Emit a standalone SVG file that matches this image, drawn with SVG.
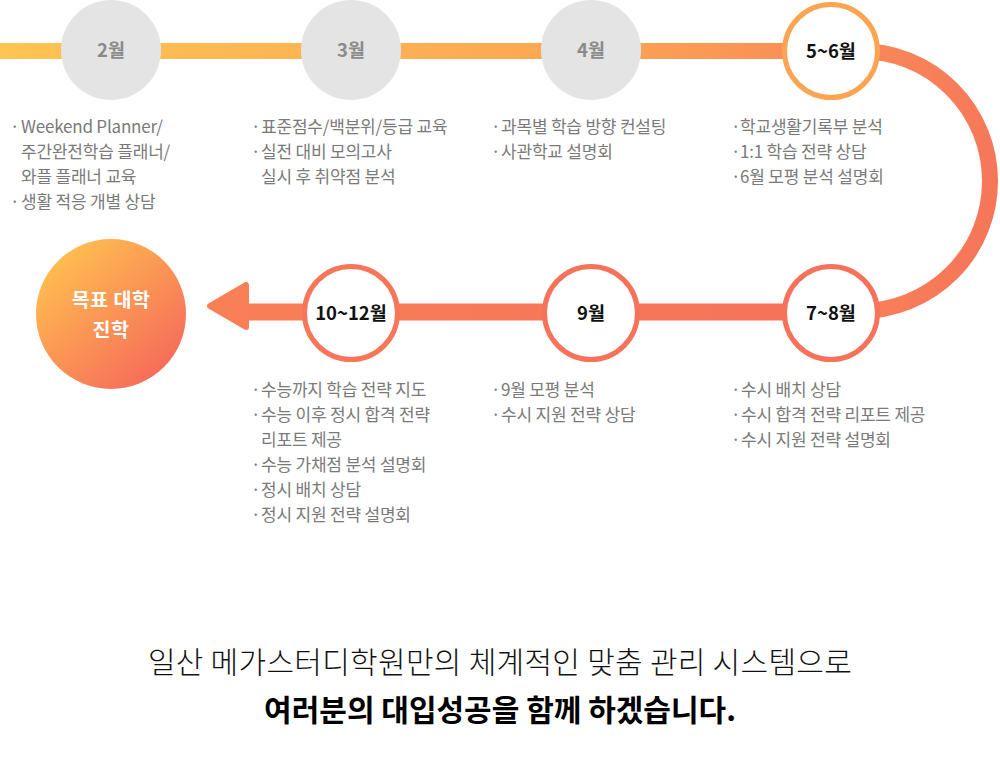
<svg xmlns="http://www.w3.org/2000/svg" width="1000" height="765" viewBox="0 0 1000 765">
<defs>
<linearGradient id="gTop" gradientUnits="userSpaceOnUse" x1="0" y1="51" x2="990" y2="311">
<stop offset="0" stop-color="#FFC451"/>
<stop offset="0.55" stop-color="#FCA653"/>
<stop offset="1" stop-color="#F6735A"/>
</linearGradient>
<linearGradient id="gBot" gradientUnits="userSpaceOnUse" x1="831" y1="0" x2="207" y2="0">
<stop offset="0" stop-color="#F6725A"/>
<stop offset="1" stop-color="#F97F57"/>
</linearGradient>
<linearGradient id="gGoal" x1="0.15" y1="0.1" x2="0.85" y2="0.9">
<stop offset="0" stop-color="#FFBE50"/>
<stop offset="1" stop-color="#F66B5A"/>
</linearGradient>
<style>
.it{font-family:"Noto Sans CJK KR","Noto Sans",sans-serif;font-size:17px;fill:#7a7a7a;letter-spacing:-0.2px}
.mg{font-family:"Noto Sans CJK KR","Noto Sans",sans-serif;font-size:18.5px;font-weight:bold;fill:#8a8a8a;text-anchor:middle}
.mb{font-family:"Noto Sans CJK KR","Noto Sans",sans-serif;font-size:18.5px;font-weight:bold;fill:#111;text-anchor:middle}
.gl{font-family:"Noto Sans CJK KR","Noto Sans",sans-serif;font-size:19.5px;font-weight:bold;fill:#fff;text-anchor:middle;letter-spacing:0.5px}
.grey{fill:#E4E4E4}
.ring{fill:#fff;stroke-width:5}
</style>
</defs>
<rect width="1000" height="765" fill="#fff"/>
<g id="connectors" fill="none">
<path d="M0 51 L860 51 A130 130 0 0 1 860 311 L831 311" stroke="url(#gTop)" stroke-width="16"/>
<path d="M831 312 L245 312" stroke="url(#gBot)" stroke-width="17"/>
<polygon points="246,285 246,327 210,306" fill="#F97F57" stroke="#F97F57" stroke-width="6" stroke-linejoin="round"/>
</g>
<g id="n-feb">
<circle class="grey" cx="111" cy="50" r="50"/>
<text class="mg" x="111" y="57">2월</text>
<text class="it"><tspan x="10" y="133">·</tspan><tspan x="21" y="133">Weekend Planner/</tspan></text>
<text class="it" x="21" y="158">주간완전학습 플래너/</text>
<text class="it" x="21" y="183">와플 플래너 교육</text>
<text class="it"><tspan x="10" y="208">·</tspan><tspan x="21" y="208">생활 적응 개별 상담</tspan></text>
</g>
<g id="n-mar">
<circle class="grey" cx="351" cy="50" r="50"/>
<text class="mg" x="351" y="57">3월</text>
<text class="it"><tspan x="251" y="133">·</tspan><tspan x="261" y="133">표준점수/백분위/등급 교육</tspan></text>
<text class="it"><tspan x="251" y="158">·</tspan><tspan x="261" y="158">실전 대비 모의고사</tspan></text>
<text class="it" x="261" y="183">실시 후 취약점 분석</text>
</g>
<g id="n-apr">
<circle class="grey" cx="591" cy="50" r="50"/>
<text class="mg" x="591" y="57">4월</text>
<text class="it"><tspan x="491" y="133">·</tspan><tspan x="501" y="133">과목별 학습 방향 컨설팅</tspan></text>
<text class="it"><tspan x="491" y="158">·</tspan><tspan x="501" y="158">사관학교 설명회</tspan></text>
</g>
<g id="n-may">
<circle class="ring" cx="831" cy="51" r="46.5" stroke="#FDA452"/>
<text class="mb" x="831" y="58">5~6월</text>
<text class="it"><tspan x="731" y="133">·</tspan><tspan x="740" y="133">학교생활기록부 분석</tspan></text>
<text class="it"><tspan x="731" y="158">·</tspan><tspan x="740" y="158">1:1 학습 전략 상담</tspan></text>
<text class="it"><tspan x="731" y="183">·</tspan><tspan x="740" y="183">6월 모평 분석 설명회</tspan></text>
</g>
<g id="n-jul">
<circle class="ring" cx="831" cy="313" r="46.5" stroke="#F6725A"/>
<text class="mb" x="831" y="320">7~8월</text>
<text class="it"><tspan x="731" y="396">·</tspan><tspan x="741" y="396">수시 배치 상담</tspan></text>
<text class="it"><tspan x="731" y="421">·</tspan><tspan x="741" y="421">수시 합격 전략 리포트 제공</tspan></text>
<text class="it"><tspan x="731" y="446">·</tspan><tspan x="741" y="446">수시 지원 전략 설명회</tspan></text>
</g>
<g id="n-sep">
<circle class="ring" cx="591" cy="313" r="46.5" stroke="#F6735A"/>
<text class="mb" x="591" y="320">9월</text>
<text class="it"><tspan x="491" y="396">·</tspan><tspan x="501" y="396">9월 모평 분석</tspan></text>
<text class="it"><tspan x="491" y="421">·</tspan><tspan x="501" y="421">수시 지원 전략 상담</tspan></text>
</g>
<g id="n-oct">
<circle class="ring" cx="351" cy="313" r="46.5" stroke="#F77658"/>
<text class="mb" x="351" y="320">10~12월</text>
<text class="it"><tspan x="251" y="396">·</tspan><tspan x="261" y="396">수능까지 학습 전략 지도</tspan></text>
<text class="it"><tspan x="251" y="421">·</tspan><tspan x="261" y="421">수능 이후 정시 합격 전략</tspan></text>
<text class="it" x="261" y="446">리포트 제공</text>
<text class="it"><tspan x="251" y="471">·</tspan><tspan x="261" y="471">수능 가채점 분석 설명회</tspan></text>
<text class="it"><tspan x="251" y="496">·</tspan><tspan x="261" y="496">정시 배치 상담</tspan></text>
<text class="it"><tspan x="251" y="521">·</tspan><tspan x="261" y="521">정시 지원 전략 설명회</tspan></text>
</g>
<g id="n-goal">
<circle cx="111" cy="314" r="75" fill="url(#gGoal)"/>
<text class="gl"><tspan x="111" y="307">목표 대학</tspan><tspan x="111" y="337">진학</tspan></text>
</g>
<g id="caption">
<text x="500" y="673" font-family="'Noto Sans CJK KR','Noto Sans',sans-serif" font-size="30" font-weight="300" fill="#111" text-anchor="middle" letter-spacing="0.3">일산 메가스터디학원만의 체계적인 맞춤 관리 시스템으로</text>
<text x="500" y="721" font-family="'Noto Sans CJK KR','Noto Sans',sans-serif" font-size="30" font-weight="bold" fill="#000" text-anchor="middle">여러분의 대입성공을 함께 하겠습니다.</text>
</g>
</svg>
